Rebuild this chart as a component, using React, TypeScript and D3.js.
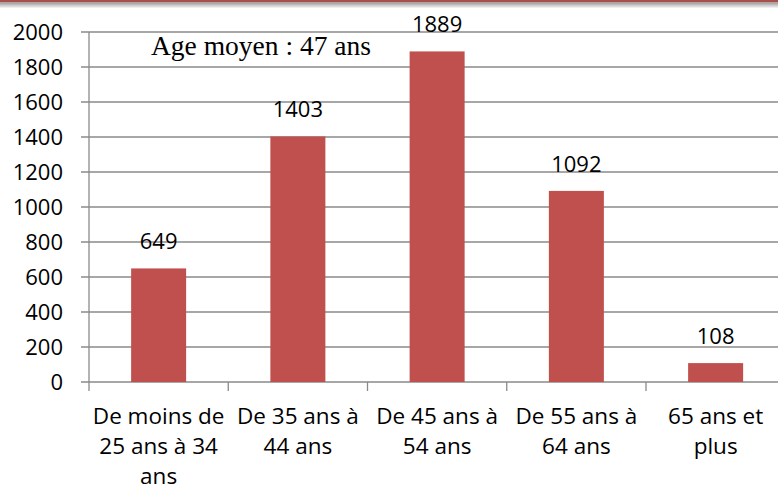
import React from "react";
import * as d3 from "d3";

const categories = [
  "De moins de\n25 ans à 34\nans",
  "De 35 ans à\n44 ans",
  "De 45 ans à\n54 ans",
  "De 55 ans à\n64 ans",
  "65 ans et\nplus",
];
const values = [649, 1403, 1889, 1092, 108];
const yTicks = [0, 200, 400, 600, 800, 1000, 1200, 1400, 1600, 1800, 2000];
const annotation = "Age moyen : 47 ans";

const W = 778;
const H = 491;
const left = 89;
const bandStep = 139.25;
const top = 32;
const bottom = 382;

export default function App() {
  const x = d3
    .scaleBand<string>()
    .domain(categories)
    .range([left, left + bandStep * categories.length])
    .padding(0);
  const y = d3.scaleLinear().domain([0, 2000]).range([bottom, top]);
  const barW = x.bandwidth() * 0.395;
  const font = "'Open Sans', Lato, sans-serif";
  const fsNum = 22;
  const fsCat = 22.5;
  const grid = "#8a8a8a";

  return (
    <svg
      width={W}
      height={H}
      style={{ position: "absolute", left: 0, top: 0, background: "#fff" }}
    >
      <defs>
        <linearGradient id="shadow" x1="0" y1="0" x2="0" y2="1">
          <stop offset="0%" stopColor="#9a9a9a" />
          <stop offset="100%" stopColor="#ffffff" />
        </linearGradient>
      </defs>
      <rect x={0} y={0} width={W} height={H} fill="#fff" />
      <rect x={0} y={0} width={W} height={2.5} fill="#a8504e" />
      <rect x={0} y={2.5} width={W} height={6} fill="url(#shadow)" />

      {yTicks.map((t) => (
        <g key={t}>
          <line x1={81} x2={W} y1={y(t)} y2={y(t)} stroke={grid} strokeWidth={1.3} />
          <text
            x={63}
            y={y(t)}
            dy="0.36em"
            textAnchor="end"
            fontFamily={font}
            fontSize={fsNum}
            fill="#000"
          >
            {t}
          </text>
        </g>
      ))}
      <line x1={left} x2={left} y1={top} y2={bottom} stroke={grid} strokeWidth={1.3} />
      {categories.map((c) => (
        <line
          key={c}
          x1={x(c)!}
          x2={x(c)!}
          y1={bottom}
          y2={bottom + 9}
          stroke={grid}
          strokeWidth={1.3}
        />
      ))}

      {categories.map((c, i) => {
        const cx = x(c)! + x.bandwidth() / 2;
        return (
          <g key={c}>
            <rect
              x={cx - barW / 2}
              y={y(values[i])}
              width={barW}
              height={y(0) - y(values[i])}
              fill="#c0504d"
            />
            <text
              x={cx}
              y={y(values[i]) - 19}
              textAnchor="middle"
              fontFamily={font}
              fontSize={fsNum}
              fill="#000"
            >
              {values[i]}
            </text>
            {c.split("\n").map((line, j) => (
              <text
                key={j}
                x={cx}
                y={424 + j * 30}
                textAnchor="middle"
                fontFamily={font}
                fontSize={fsCat}
                fill="#000"
              >
                {line}
              </text>
            ))}
          </g>
        );
      })}

      <text
        x={151}
        y={55}
        fontFamily="'Liberation Serif', 'Times New Roman', serif"
        fontSize={27.5}
        fill="#000"
      >
        {annotation}
      </text>
    </svg>
  );
}
